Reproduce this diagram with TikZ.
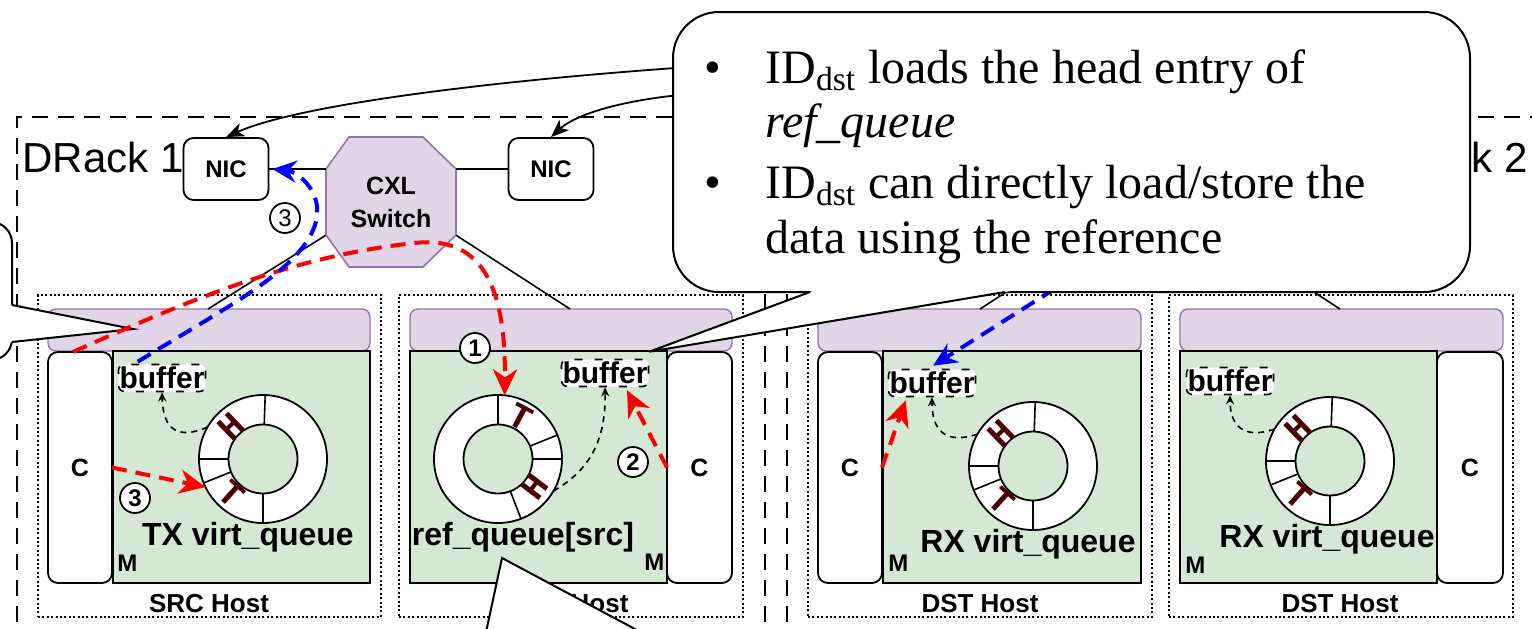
\documentclass[tikz,border=0pt]{standalone}
\usepackage{fontspec}
\setmainfont{Liberation Serif}
\setsansfont{Liberation Sans}
\newfontfamily\htfont{Liberation Mono}
\usetikzlibrary{arrows.meta,calc}
\definecolor{purfill}{HTML}{E1D5E7}
\definecolor{purdraw}{HTML}{9673A6}
\definecolor{grnfill}{HTML}{D5E8D4}
\definecolor{htred}{HTML}{4D0000}
\definecolor{flowred}{HTML}{FF0000}
\definecolor{flowblue}{HTML}{0000FF}
\newcommand\rnode[7]{\node[#1, inner sep=0pt, outer sep=0pt, minimum width={((#5)-(#3))*0.5pt}, minimum height={((#6)-(#4))*0.5pt}] (#2) at ({((#3)+(#5))/2},{((#4)+(#6))/2}) {#7};}
\newcommand\myring[8]{%
  \node[ringo] (#1) at (#2) {};
  \node[ringi] (#1in) at (#2) {};
  \foreach \a in {#3,#4,#5,#6}{\draw[line width=0.8pt] (#1in.\a) -- (#1.\a);}
  \pgfmathsetmacro\rotH{(#7-90)-180*round((#7-90)/180)}
  \pgfmathsetmacro\rotT{(#8-90)-180*round((#8-90)/180)}
  \node[htl, rotate=\rotH] (#1H) at ($(#1)!0.71!(#1.#7)$) {H};
  \node[htl, rotate=\rotT] (#1T) at ($(#1)!0.74!(#1.#8)$) {T};
}
\begin{document}
\begin{tikzpicture}[x=0.5pt,y=-0.5pt,
  rack/.style={line width=1pt, dash pattern=on 8pt off 5pt},
  hostdot/.style={draw, line width=1pt, dash pattern=on 1pt off 1.2pt},
  bar/.style={draw=purdraw, fill=purfill, line width=0.7pt, rounded corners=4pt},
  mem/.style={draw, fill=grnfill, line width=1pt},
  cbox/.style={draw, fill=white, line width=0.9pt, rounded corners=5pt, font=\sffamily\bfseries\fontsize{12.5}{12.5}\selectfont},
  ringo/.style={circle, draw, fill=white, line width=0.9pt, minimum size=64pt, inner sep=0pt, outer sep=0pt},
  ringi/.style={circle, draw, fill=grnfill, line width=0.9pt, minimum size=34.5pt, inner sep=0pt, outer sep=0pt},
  htl/.style={text=htred, font=\htfont\bfseries\fontsize{18}{18}\selectfont, inner sep=0pt},
  buf/.style={draw, dash pattern=on 4pt off 6pt, line width=0.8pt, rounded corners=3pt, fill=white, font=\sffamily\bfseries\fontsize{15}{15}\selectfont, inner xsep=0.5pt, inner ysep=0pt, minimum height=13.5pt},
  hostlab/.style={font=\sffamily\bfseries\fontsize{13}{13}\selectfont, inner sep=0pt},
  qlab/.style={font=\sffamily\bfseries\fontsize{16}{16}\selectfont, inner sep=0pt},
  mlab/.style={font=\sffamily\bfseries\fontsize{12}{12}\selectfont, inner sep=0pt},
  racklab/.style={font=\sffamily\fontsize{21}{21}\selectfont, inner sep=0pt},
  nic/.style={draw, fill=white, line width=0.9pt, rounded corners=5pt, minimum width=42.5pt, minimum height=31pt, inner sep=0pt, font=\sffamily\bfseries\fontsize{12}{12}\selectfont},
  swpoly/.style={draw=purdraw, fill=purfill, line width=0.8pt},
  swtext/.style={minimum size=65pt, inner sep=0pt, align=center, font=\sffamily\bfseries\fontsize{12.5}{16.5}\selectfont},
  conn/.style={line width=0.8pt},
  ptr/.style={line width=0.8pt, dash pattern=on 3pt off 2.5pt, -{Stealth[length=4.5pt,width=4pt]}},
  redflow/.style={draw=flowred, line width=2pt, dash pattern=on 7.5pt off 4.5pt, -{Stealth[length=13pt,width=12pt,inset=4pt]}},
  blueflow/.style={draw=flowblue, line width=2pt, dash pattern=on 7.5pt off 4.5pt, -{Stealth[length=12pt,width=11pt,inset=4pt]}},
  carrow/.style={line width=0.9pt, -{Stealth[length=9pt,width=7pt,inset=2.5pt]}},
  callout/.style={draw, fill=white, line width=1pt},
  ctext/.style={font=\fontsize{24}{28.5}\selectfont, inner sep=0pt},
  marker/.style={circle, draw, fill=white, line width=0.9pt, minimum size=15pt, inner sep=0pt, font=\sffamily\bfseries\fontsize{12}{12}\selectfont},
  markerthin/.style={marker, font=\sffamily\fontsize{12}{12}\selectfont}
]
\useasboundingbox (0,0) rectangle (1532,628);
\clip (0,0) rectangle (1532,628);

% racks
\draw[rack] (17,700) -- (17,117) -- (765,117) -- (765,700);
\draw[rack] (787,700) -- (787,117) -- (1600,117);
\node[racklab, anchor=base west] (r1) at (22,172) {DRack 1};
\node[racklab, anchor=base east] (r2) at (1528,172) {DRack 2};

% host 1
\rnode{hostdot}{h1}{38}{295}{381}{617}{}
\rnode{bar}{bar1}{48}{309}{370}{351}{}
\rnode{mem}{mem1}{113}{351}{370}{583}{}
\rnode{cbox}{c1}{48}{352}{112}{583}{C}
\node[mlab, anchor=base west] (m1l) at (117,571) {M};
\node[hostlab, anchor=base] (h1l) at (209,612) {SRC Host};
\node[qlab, anchor=base] (q1l) at (248,545) {TX virt\_queue};
\myring{q1}{263,459}{88}{180}{202}{270}{134}{228}
\node[buf] (b1) at (162,378) {buffer};

% host 2
\rnode{hostdot}{h2}{399}{295}{743}{617}{}
\rnode{bar}{bar2}{410}{309}{732}{351}{}
\rnode{mem}{mem2}{410}{351}{667}{583}{}
\rnode{cbox}{c2}{667}{352}{732}{583}{C}
\node[mlab, anchor=base west] (m2l) at (644,570) {M};
\node[hostlab, anchor=base] (h2l) at (570,612) {DST Host};
\node[qlab, anchor=base] (q2l) at (523,545) {ref\_queue[src]};
\myring{q2}{498,459}{90}{22}{0}{-69}{-37}{62}
\node[buf] (b2) at (605,373) {buffer};

% host 3
\rnode{hostdot}{h3}{808}{295}{1152}{617}{}
\rnode{bar}{bar3}{818}{309}{1141}{351}{}
\rnode{mem}{mem3}{883}{351}{1141}{583}{}
\rnode{cbox}{c3}{818}{352}{882}{583}{C}
\node[mlab, anchor=base west] (m3l) at (888,571) {M};
\node[hostlab, anchor=base] (h3l) at (980,612) {DST Host};
\node[qlab, anchor=base] (q3l) at (1028,552) {RX virt\_queue};
\myring{q3}{1033,466}{88}{180}{202}{270}{134}{228}
\node[buf] (b3) at (932,383) {buffer};

% host 4
\rnode{hostdot}{h4}{1169}{295}{1513}{617}{}
\rnode{bar}{bar4}{1180}{309}{1503}{351}{}
\rnode{mem}{mem4}{1180}{351}{1437}{583}{}
\rnode{cbox}{c4}{1437}{352}{1503}{583}{C}
\node[mlab, anchor=base west] (m4l) at (1185,573) {M};
\node[hostlab, anchor=base] (h4l) at (1340,612) {DST Host};
\node[qlab, anchor=base] (q4l) at (1327,547) {RX virt\_queue};
\myring{q4}{1330,461}{88}{180}{202}{270}{134}{228}
\node[buf] (b4) at (1230,381) {buffer};

% switch and NICs
\draw[swpoly] (349,137) -- (423,137) -- (456,169) -- (456,235) -- (423,267) -- (349,267) -- (326,235) -- (326,169) -- cycle;
\node[swtext] (sw) at (391,202) {CXL\\Switch};
\node[nic] (nic1) at (226,169) {NIC};
\node[nic] (nic2) at (551,169) {NIC};
\draw[conn] (nic1.east) -- (nic1.east -| sw.west);
\draw[conn] (nic2.west) -- (nic2.west -| sw.east);
\draw[conn] ($(sw.south west)+(0,-32)$) -- ($(bar1.north west)+(160,0)$);
\draw[conn] ($(sw.south east)+(0,-32)$) -- ($(bar2.north west)+(160,0)$);
\coordinate (sw2a) at (1065,254);
\coordinate (sw2b) at (1280,270);
\draw[conn] ($(bar3.north west)+(162,0)$) -- (sw2a);
\draw[conn] ($(bar4.north west)+(160,0)$) -- (sw2b);

% ring -> buffer pointers
\draw[ptr] (q1.150) .. controls (178,440) and (163,430) .. (b1.south);
\draw[ptr] (q2.-30) .. controls (590,470) and (606,440) .. (b2.south);
\draw[ptr] (q3.150) .. controls (945,445) and (932,430) .. (b3.south);
\draw[ptr] (q4.150) .. controls (1243,440) and (1230,425) .. (b4.south);

% blue flow into DST host (starts under callout)
\coordinate (bsrc) at (1075,276);
\draw[blueflow] (bsrc) -- ($(b3.north)+(1,-3)$);

% callout arrows to NICs
\coordinate (ca1) at (690,67);
\coordinate (ca2) at (690,94);
\draw[carrow] (ca1) .. controls (500,80) and (300,104) .. (nic1.north);
\draw[carrow] (ca2) .. controls (620,100) and (575,115) .. (nic2.north);

% top callout
\rnode{callout, rounded corners=23pt}{co1}{673}{12}{1470}{292}{}
\coordinate (tipA) at ($(b2.north east)+(0,-7)$);
\fill[white] (tipA) -- (818,289) -- (1023,289) -- cycle;
\draw[line width=1pt] (810,292) -- (tipA) -- (1005,292);
\node[ctext, anchor=base] (bl1) at (713,83) {•};
\node[ctext, anchor=base west] (t1) at (765,83) {ID\textsubscript{dst} loads the head entry of};
\node[ctext, anchor=base west] (t2) at (765,137) {\textit{ref\_queue}};
\node[ctext, anchor=base] (bl2) at (713,198) {•};
\node[ctext, anchor=base west] (t3) at (765,198) {ID\textsubscript{dst} can directly load/store the};
\node[ctext, anchor=base west] (t4) at (765,253) {data using the reference};

% left callout
\rnode{callout, rounded corners=10.5pt}{co2}{-200}{222}{12}{360}{}
\coordinate (tipB) at (133,329);
\fill[white] (tipB) -- (10,304.6) -- (10,342.3) -- cycle;
\draw[line width=1pt] (12,305) -- (tipB) -- (12,342);

% bottom callout
\coordinate (tipC) at (502,558);
\fill[white] (tipC) -- (480,660) -- (693,660) -- cycle;
\draw[line width=1pt] (480,660) -- (tipC) -- (693,660);

% flows
\draw[redflow] ($(c1.north)+(-7,0)$) .. controls (200,295) and (300,255) .. (415,243) .. controls (478,236) and (506,280) .. (q2.84);
\draw[redflow] (c2.west) -- ($(b2.south)+(22,3)$);
\draw[redflow] (c1.east) -- (q1.206);
\draw[redflow] (c3.east) -- ($(b3.south west)+(18,3)$);
\draw[blueflow] ($(b1.north west)+(20,-2)$) .. controls (230,305) and (300,270) .. (315,225) .. controls (325,195) and (300,172) .. ($(nic1.east)+(3,0)$);

% markers
\node[marker] (mk1) at (475,348) {1};
\node[marker] (mk2) at (633,462) {2};
\node[marker] (mk3) at (135,498) {3};
\node[markerthin] (mk3b) at (285,218) {3};
\end{tikzpicture}
\end{document}
